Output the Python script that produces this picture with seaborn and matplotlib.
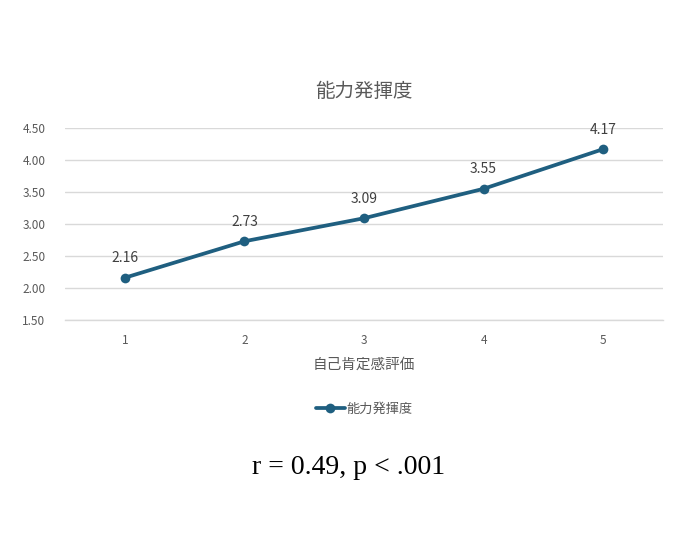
import numpy as np
import pandas as pd
import matplotlib
matplotlib.use('Agg')
import matplotlib.pyplot as plt
import seaborn as sns

sns.set_theme(style='white')
plt.rcParams['font.family'] = ['Noto Sans CJK JP', 'DejaVu Sans']

# --- data ---
x_vals = [1, 2, 3, 4, 5]
y_vals = [2.16, 2.73, 3.09, 3.55, 4.17]
series_name = '能力発揮度'
x_label = '自己肯定感評価'
y_ticks = [1.50, 2.00, 2.50, 3.00, 3.50, 4.00, 4.50]
stat_text = 'r = 0.49, p < .001'

df = pd.DataFrame({'x': x_vals, 'y': y_vals, 'series': series_name})

LINE = '#1f5f80'
GRAY = '#595959'

fig = plt.figure(figsize=(6.97, 5.51), dpi=100)
ax = fig.add_axes([65 / 697, 1 - 320 / 551, 598 / 697, 192 / 551])

sns.lineplot(data=df, x='x', y='y', hue='series', palette=[LINE],
             marker='o', markersize=7, markeredgewidth=0, linewidth=2.7, ax=ax)

ax.set_xlim(0.5, 5.5)
ax.set_ylim(1.5, 4.5)
ax.set_xticks(x_vals)
ax.set_yticks(y_ticks)
ax.set_yticklabels([f'{v:.2f}' for v in y_ticks])
ax.tick_params(axis='both', labelsize=8.5, colors=GRAY, length=0)
ax.tick_params(axis='x', pad=10)
ax.tick_params(axis='y', pad=14)
ax.grid(axis='y', color='#d9d9d9', linewidth=1)
ax.grid(axis='x', visible=False)
for s in ['top', 'right', 'left']:
    ax.spines[s].set_visible(False)
ax.spines['bottom'].set_color('#d9d9d9')
ax.spines['bottom'].set_linewidth(1)

ax.set_xlabel(x_label, fontsize=10.5, color=GRAY, labelpad=8)
ax.set_ylabel('')
ax.set_title(series_name, fontsize=14, color=GRAY, pad=22)

for xv, yv in zip(x_vals, y_vals):
    ax.annotate(f'{yv:.2f}', (xv, yv), xytext=(0, 9), textcoords='offset points',
                ha='center', va='bottom', fontsize=10, color='#404040')

ax.legend(loc='center', bbox_to_anchor=(0.5, 1 - (409 - 128) / 192), frameon=False,
          fontsize=9.5, labelcolor=GRAY, handlelength=2.2, handletextpad=0.1)

fig.text(0.5, 1 - 467 / 551, stat_text, ha='center', va='center',
         fontsize=20, family='Liberation Serif', color='black')

fig.savefig('out.png', dpi=100)
